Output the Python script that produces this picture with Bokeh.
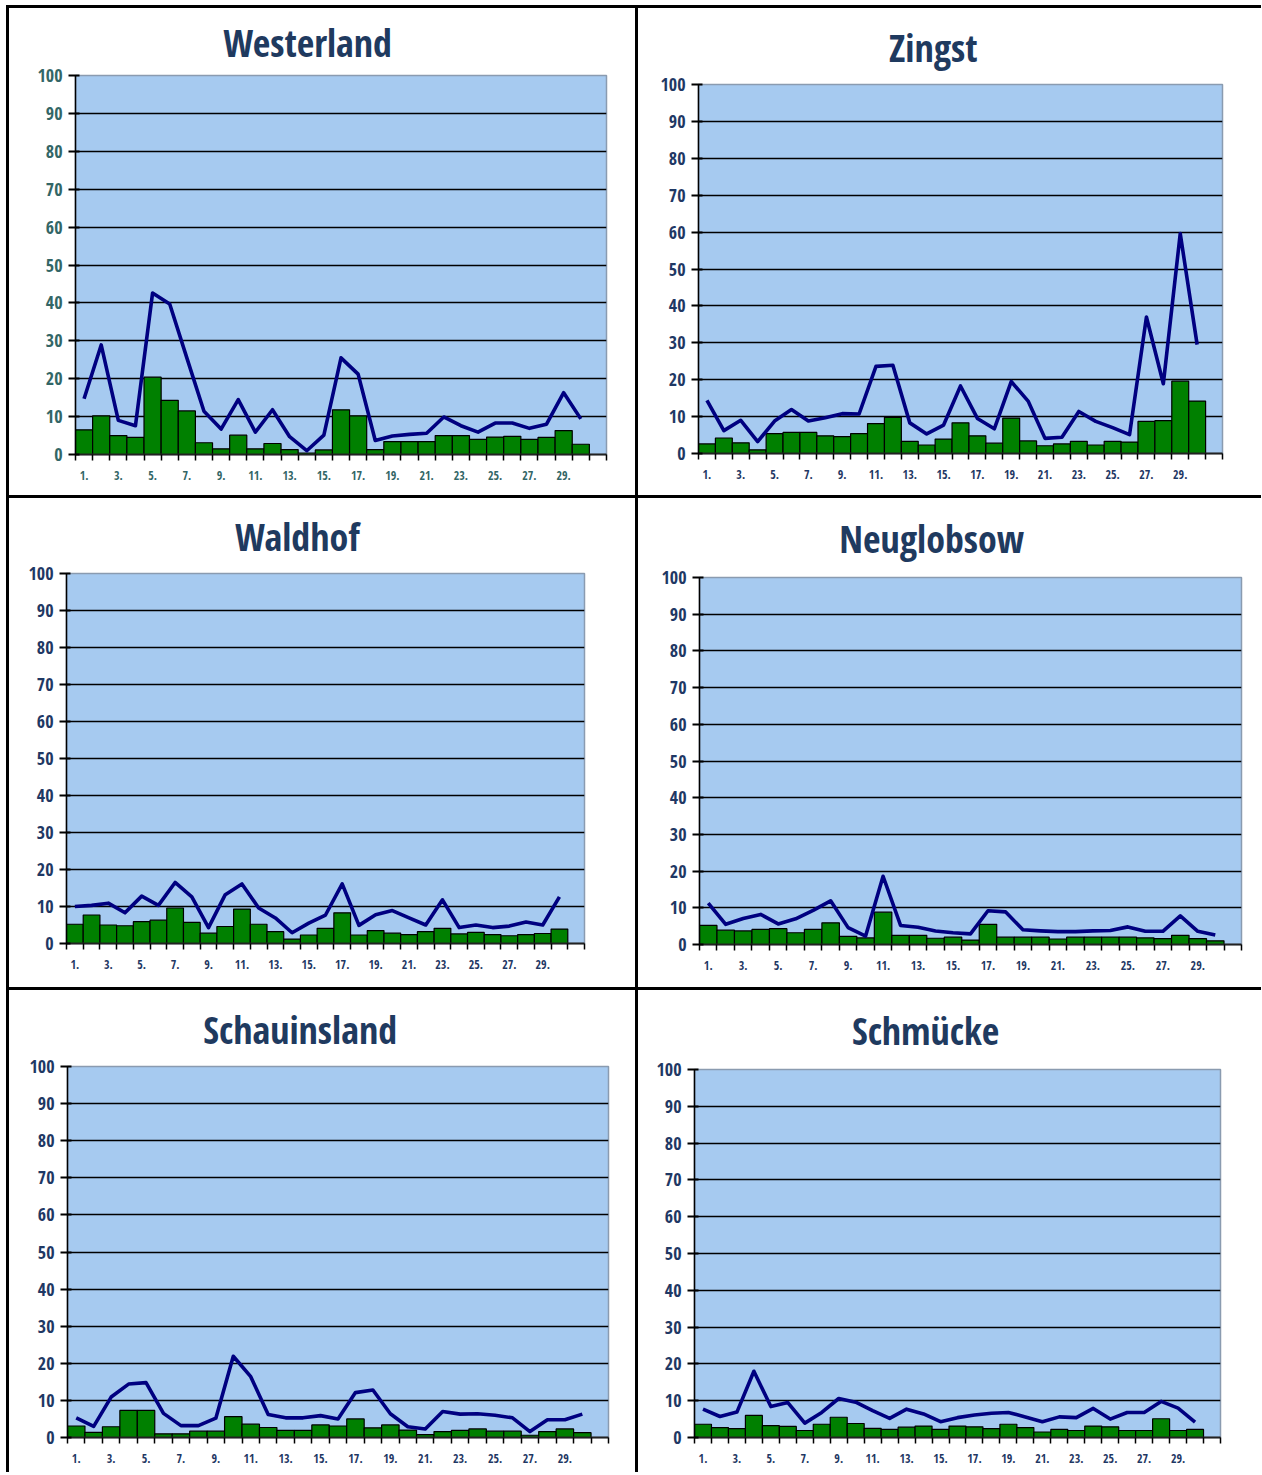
from bokeh.plotting import figure
from bokeh.layouts import column, row
from bokeh.models import FixedTicker, Range1d
from bokeh.embed import file_html
from bokeh.resources import INLINE

days = list(range(1, 31))
tick_days = list(range(1, 30, 2))
tick_labels = {d: f"{d}." for d in tick_days}

westerland_bars = [6.5, 10.2, 5.0, 4.5, 20.4, 14.3, 11.5, 3.1, 1.5, 5.1,
                   1.5, 2.9, 1.3, 0.4, 1.2, 11.8, 10.2, 1.3, 3.4, 3.4,
                   3.4, 5.0, 5.0, 4.0, 4.6, 4.8, 4.0, 4.5, 6.3, 2.7]
westerland_line = [14.7, 28.9, 9.0, 7.6, 42.6, 39.7, 25.5, 11.4, 6.7, 14.5,
                   5.9, 11.8, 4.7, 1.0, 5.1, 25.5, 21.2, 3.7, 4.9, 5.3,
                   5.6, 9.9, 7.6, 5.9, 8.3, 8.3, 6.9, 8.0, 16.3, 9.4]

zingst_bars = [2.6, 4.2, 2.9, 1.0, 5.4, 5.7, 5.7, 4.8, 4.6, 5.4,
               8.1, 9.8, 3.3, 2.3, 3.9, 8.3, 4.8, 2.8, 9.6, 3.4,
               2.1, 2.6, 3.3, 2.3, 3.3, 3.1, 8.7, 8.9, 19.6, 14.2]
zingst_line = [14.4, 6.2, 9.0, 3.2, 8.8, 11.9, 8.8, 9.7, 10.8, 10.7,
               23.6, 23.9, 8.3, 5.3, 7.7, 18.3, 9.5, 6.7, 19.5, 14.2,
               4.1, 4.4, 11.4, 8.7, 7.0, 5.1, 37.0, 18.9, 59.6, 29.5]

waldhof_bars = [5.2, 7.7, 5.0, 4.8, 5.9, 6.3, 9.6, 5.7, 2.8, 4.6,
                9.3, 5.2, 3.2, 1.2, 2.3, 4.1, 8.3, 2.3, 3.5, 2.8,
                2.4, 3.2, 4.1, 2.6, 3.0, 2.4, 2.1, 2.4, 2.7, 3.9]
waldhof_line = [10.0, 10.3, 10.9, 8.3, 12.8, 10.3, 16.5, 12.6, 4.3, 13.2,
                16.1, 9.6, 6.9, 2.9, 5.5, 7.7, 16.1, 4.9, 7.8, 8.9,
                6.9, 5.0, 11.8, 4.3, 5.0, 4.3, 4.7, 5.8, 5.0, 12.6]

neuglobsow_bars = [5.2, 3.9, 3.7, 4.1, 4.3, 3.2, 4.1, 5.9, 2.2, 1.8,
                   8.8, 2.5, 2.5, 1.7, 2.0, 1.2, 5.5, 2.0, 2.0, 2.0,
                   1.5, 2.0, 2.0, 2.0, 2.0, 1.8, 1.6, 2.5, 1.6, 1.0]
neuglobsow_line = [11.3, 5.5, 7.1, 8.2, 5.6, 7.0, 9.3, 11.9, 4.6, 2.3,
                   18.6, 5.2, 4.7, 3.7, 3.2, 2.9, 9.2, 8.9, 4.0, 3.7,
                   3.5, 3.5, 3.7, 3.8, 4.8, 3.6, 3.6, 7.8, 3.6, 2.6]

schauinsland_bars = [3.1, 1.4, 2.9, 7.3, 7.3, 1.0, 1.0, 1.7, 1.7, 5.6,
                     3.6, 2.7, 1.9, 1.9, 3.4, 3.1, 5.0, 2.6, 3.4, 2.0,
                     0.8, 1.6, 1.9, 2.3, 1.7, 1.7, 0.6, 1.6, 2.3, 1.3]
schauinsland_line = [5.3, 3.0, 10.9, 14.4, 14.8, 6.5, 3.2, 3.2, 5.2, 21.9,
                     16.4, 6.2, 5.3, 5.3, 5.9, 5.0, 12.1, 12.8, 6.4, 2.9,
                     2.3, 7.0, 6.3, 6.4, 6.0, 5.3, 1.6, 4.8, 4.8, 6.3]

schmuecke_bars = [3.6, 2.7, 2.4, 6.0, 3.2, 3.0, 1.9, 3.6, 5.5, 3.8,
                  2.5, 2.2, 2.8, 3.1, 2.2, 3.1, 2.9, 2.4, 3.6, 2.7,
                  1.5, 2.2, 1.9, 3.1, 2.9, 1.9, 1.9, 5.1, 1.9, 2.2]
schmuecke_line = [7.7, 5.7, 6.9, 18.0, 8.4, 9.5, 3.9, 6.8, 10.6, 9.6,
                  7.3, 5.2, 7.7, 6.4, 4.3, 5.4, 6.1, 6.6, 6.8, 5.6,
                  4.3, 5.6, 5.4, 7.9, 5.0, 6.8, 6.8, 9.8, 8.0, 4.2]

FONT = "Open Sans Condensed"
TITLE_COLOR = "#1f3a5f"
TITLE_SIZE = 38
B = "3px solid black"


def panel(name, bars, line, width, height, left, right, top, bottom,
          title_x, standoff, label_color):
    p = figure(width=width, height=height,
               x_range=Range1d(0.5, 31.5), y_range=Range1d(0, 100),
               output_backend="svg", toolbar_location=None,
               min_border_left=left, min_border_right=right,
               min_border_top=top, min_border_bottom=bottom,
               background_fill_color="#a6caf0", border_fill_color="white",
               outline_line_color="#8a9bb0", outline_line_width=1.5,
               styles={"border-top": B, "border-left": B})

    p.vbar(x=days, top=bars, width=1.0, bottom=0,
           fill_color="#008000", line_color="black", line_width=1.2)
    p.line(days, line, line_color="#000080", line_width=3.6,
           line_join="round")

    p.xgrid.visible = False
    p.ygrid.grid_line_color = "black"
    p.ygrid.grid_line_width = 1.4

    p.yaxis.ticker = FixedTicker(ticks=list(range(0, 101, 10)), minor_ticks=[])
    p.yaxis.axis_line_color = "black"
    p.yaxis.axis_line_width = 1.5
    p.yaxis.major_tick_out = 7
    p.yaxis.major_tick_in = 4
    p.yaxis.major_tick_line_width = 2
    p.yaxis.major_label_standoff = 6
    p.yaxis.major_label_text_font = FONT
    p.yaxis.major_label_text_font_size = "18px"
    p.yaxis.major_label_text_color = label_color

    p.xaxis.ticker = FixedTicker(ticks=tick_days,
                                 minor_ticks=[d + 0.5 for d in range(0, 32)])
    p.xaxis.major_label_overrides = tick_labels
    p.xaxis.axis_line_color = "#222222"
    p.xaxis.axis_line_width = 2
    p.xaxis.major_tick_out = 0
    p.xaxis.major_tick_in = 0
    p.xaxis.minor_tick_out = 6
    p.xaxis.minor_tick_in = 0
    p.xaxis.minor_tick_line_color = "black"
    p.xaxis.minor_tick_line_width = 1.5
    p.xaxis.major_label_standoff = 10
    p.xaxis.major_label_text_font = FONT
    p.xaxis.major_label_text_font_size = "12px"
    p.xaxis.major_label_text_color = label_color

    est_w = 0.47 * TITLE_SIZE * len(name)
    p.title.text = name
    p.title.align = "left"
    p.title.vertical_align = "top"
    p.title.offset = title_x - left - est_w / 2
    p.title.standoff = standoff
    p.title.text_font = FONT
    p.title.text_font_style = "bold"
    p.title.text_font_size = f"{TITLE_SIZE}px"
    p.title.text_color = TITLE_COLOR
    return p


w0, w1 = 629, 626
h0, h1, h2 = 490, 492, 485
p1 = panel("Westerland", westerland_bars, westerland_line, w0, h0,
           66, 32, 67, 44, 303, 11, "#336666")
p2 = panel("Zingst", zingst_bars, zingst_line, w1, h0,
           60, 42, 76, 45, 304, 20, "#1f3864")
p3 = panel("Waldhof", waldhof_bars, waldhof_line, w0, h1,
           57, 54, 75, 47, 288, 19, "#1f3864")
p4 = panel("Neuglobsow", neuglobsow_bars, neuglobsow_line, w1, h1,
           61, 23, 79, 46, 290, 23, "#1f3864")
p5 = panel("Schauinsland", schauinsland_bars, schauinsland_line, w0, h2,
           58, 30, 76, 38, 301, 20, "#1f3864")
p6 = panel("Schmücke", schmuecke_bars, schmuecke_line, w1, h2,
           56, 44, 79, 38, 285, 23, "#1f3864")

# each plot in its own box so the row does not line the frames up
page = column(row(column(p1), column(p2)),
              row(column(p3), column(p4)),
              row(column(p5), column(p6)),
              styles={"margin-left": "6px", "margin-top": "5px"})

open("out.html", "w").write(file_html(page, INLINE))
